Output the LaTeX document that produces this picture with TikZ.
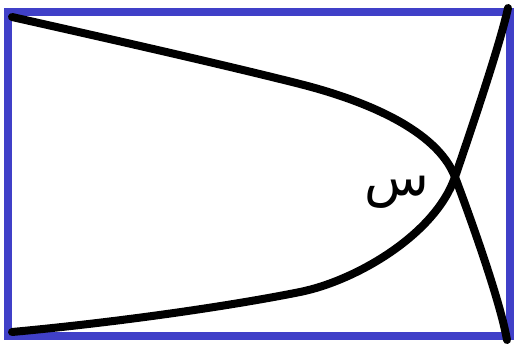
\documentclass[tikz,border=0pt]{standalone}
\usepackage{fontspec}
\newfontfamily\arabicfont[Script=Arabic]{DejaVu Sans}
\TeXXeTstate=1
\definecolor{framecol}{RGB}{64,64,200}
\begin{document}
\begin{tikzpicture}[
  x=1pt, y=-1pt,
  frame/.style={draw=framecol, line width=8pt},
  curve/.style={draw=black, line width=8pt, line cap=round},
  letter/.style={font=\arabicfont\fontsize{53}{60}\selectfont, inner sep=0pt}
]
\useasboundingbox (0,0) rectangle (514,346);
\draw[frame] (8,12) rectangle (510,336);
% the two branches
\draw[curve] (12,17) .. controls (110,39) and (225,65) .. (300,84)
  .. controls (365,100.5) and (437,130) .. (455,177)
  .. controls (469,214) and (500,300) .. (507,340);
\draw[curve] (12,332) .. controls (120,322) and (230,306) .. (300,292)
  .. controls (355,281) and (435,235) .. (455,177)
  .. controls (469,136) and (500,45) .. (508,8);
\node[letter] (sin) at (397,192) {\beginR س\endR};
\end{tikzpicture}
\end{document}
